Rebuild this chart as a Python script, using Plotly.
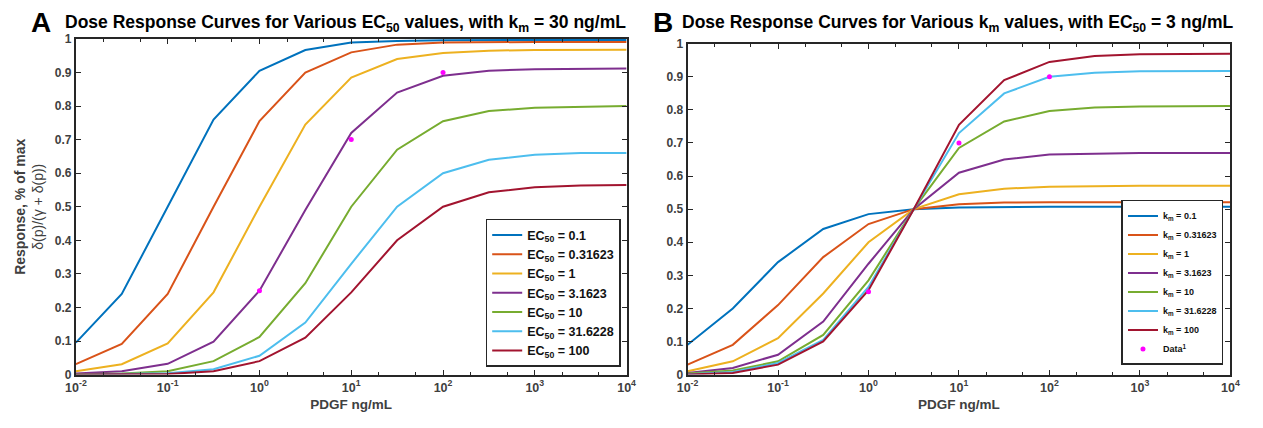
import plotly.graph_objects as go

# ---------------- data ----------------
dose = [0.01, 0.0316, 0.1, 0.316, 1, 3.16, 10, 31.6, 100, 316, 1000, 3162, 10000]

ec50_labels = ["EC<sub>50</sub> = 0.1", "EC<sub>50</sub> = 0.31623", "EC<sub>50</sub> = 1",
               "EC<sub>50</sub> = 3.1623", "EC<sub>50</sub> = 10", "EC<sub>50</sub> = 31.6228",
               "EC<sub>50</sub> = 100"]
resp_A = [
    [0.095, 0.24, 0.50, 0.76, 0.905, 0.967, 0.989, 0.994, 0.996, 0.997, 0.997, 0.997, 0.997],
    [0.031, 0.091, 0.24, 0.50, 0.755, 0.90, 0.96, 0.983, 0.989, 0.991, 0.991, 0.991, 0.991],
    [0.010, 0.031, 0.093, 0.245, 0.50, 0.745, 0.885, 0.94, 0.958, 0.965, 0.967, 0.968, 0.968],
    [0.003, 0.010, 0.032, 0.098, 0.25, 0.49, 0.72, 0.84, 0.89, 0.905, 0.91, 0.912, 0.912],
    [0.001, 0.003, 0.010, 0.040, 0.112, 0.272, 0.50, 0.67, 0.755, 0.785, 0.795, 0.798, 0.80],
    [0.000, 0.001, 0.004, 0.016, 0.056, 0.155, 0.33, 0.50, 0.60, 0.64, 0.655, 0.66, 0.66],
    [0.000, 0.000, 0.002, 0.010, 0.040, 0.110, 0.245, 0.40, 0.50, 0.543, 0.558, 0.563, 0.565],
]

km_labels = ["k<sub>m</sub> = 0.1", "k<sub>m</sub> = 0.31623", "k<sub>m</sub> = 1",
             "k<sub>m</sub> = 3.1623", "k<sub>m</sub> = 10", "k<sub>m</sub> = 31.6228",
             "k<sub>m</sub> = 100"]
resp_B = [
    [0.09, 0.20, 0.34, 0.44, 0.485, 0.50, 0.505, 0.507, 0.507, 0.507, 0.507, 0.507, 0.507],
    [0.03, 0.09, 0.21, 0.355, 0.455, 0.50, 0.515, 0.52, 0.521, 0.521, 0.521, 0.521, 0.521],
    [0.01, 0.04, 0.11, 0.245, 0.40, 0.50, 0.545, 0.562, 0.568, 0.57, 0.571, 0.571, 0.571],
    [0.005, 0.02, 0.06, 0.16, 0.335, 0.50, 0.61, 0.65, 0.665, 0.668, 0.67, 0.67, 0.67],
    [0.003, 0.012, 0.04, 0.12, 0.285, 0.50, 0.685, 0.765, 0.797, 0.807, 0.81, 0.812, 0.812],
    [0.001, 0.008, 0.035, 0.105, 0.265, 0.50, 0.73, 0.85, 0.90, 0.912, 0.917, 0.918, 0.918],
    [0.000, 0.005, 0.03, 0.10, 0.255, 0.50, 0.755, 0.89, 0.945, 0.963, 0.968, 0.97, 0.97],
]

data_x = [1, 10, 100]
data_y = [0.25, 0.70, 0.90]

colors = ["#0072BD", "#D95319", "#EDB120", "#7E2F8E", "#77AC30", "#4DBEEE", "#A2142F"]

x_tickvals = [0.01, 0.1, 1, 10, 100, 1000, 10000]
x_ticktext = ["10<sup>-2</sup>", "10<sup>-1</sup>", "10<sup>0</sup>", "10<sup>1</sup>",
              "10<sup>2</sup>", "10<sup>3</sup>", "10<sup>4</sup>"]
y_tickvals = [0, 0.1, 0.2, 0.3, 0.4, 0.5, 0.6, 0.7, 0.8, 0.9, 1]
y_ticktext = ["0", "0.1", "0.2", "0.3", "0.4", "0.5", "0.6", "0.7", "0.8", "0.9", "1"]

# ---------------- figure ----------------
W, H = 1263, 428
FONT = "Liberation Sans, Arial, sans-serif"
AX = "#262626"

fig = go.Figure()

for lab, ys, c in zip(ec50_labels, resp_A, colors):
    fig.add_trace(go.Scatter(x=dose, y=ys, mode="lines", name="<b>" + lab + "</b>",
                             line=dict(color=c, width=2), xaxis="x", yaxis="y",
                             legend="legend"))
fig.add_trace(go.Scatter(x=data_x, y=data_y, mode="markers", showlegend=False,
                         marker=dict(color="#FF00FF", size=5), xaxis="x", yaxis="y"))

for lab, ys, c in zip(km_labels, resp_B, colors):
    fig.add_trace(go.Scatter(x=dose, y=ys, mode="lines", name="<b>" + lab + "</b>",
                             line=dict(color=c, width=2), xaxis="x2", yaxis="y2",
                             legend="legend2"))
fig.add_trace(go.Scatter(x=data_x, y=data_y, mode="markers", name="<b>Data<sup>1</sup></b>",
                         marker=dict(color="#FF00FF", size=5), xaxis="x2", yaxis="y2",
                         legend="legend2"))


def xax(domain, anchor):
    return dict(type="log", range=[-2, 4], domain=domain, anchor=anchor,
                tickvals=x_tickvals, ticktext=x_ticktext,
                ticks="inside", ticklen=5, tickwidth=1, tickcolor=AX,
                minor=dict(ticks="inside", ticklen=3, tickcolor=AX, showgrid=False),
                showline=True, linecolor=AX, linewidth=2, mirror="ticks",
                showgrid=False, zeroline=False,
                tickfont=dict(family=FONT, size=12.5, color="#404040", weight="bold"),
                title=dict(text="<b>PDGF ng/mL</b>", standoff=6,
                           font=dict(family=FONT, size=13.5, color="#404040")))


def yax(domain, anchor):
    return dict(range=[0, 1], domain=domain, anchor=anchor,
                tickvals=y_tickvals, ticktext=y_ticktext,
                ticks="inside", ticklen=5, tickwidth=1, tickcolor=AX,
                showline=True, linecolor=AX, linewidth=2, mirror="ticks",
                showgrid=False, zeroline=False,
                tickfont=dict(family=FONT, size=12, color="#404040", weight="bold"))


ya = yax([1 - 380 / H, 1 - 33 / H], "x")
ya["title"] = dict(text="<b>Response, % of max</b><br>δ(p)/(γ + δ(p))", standoff=8,
                   font=dict(family=FONT, size=14, color="#404040"))

fig.update_layout(
    width=W, height=H,
    margin=dict(l=0, r=0, t=0, b=0),
    paper_bgcolor="white", plot_bgcolor="white",
    font=dict(family=FONT, color=AX),
    xaxis=xax([66 / W, 626 / W], "y"),
    yaxis=ya,
    xaxis2=xax([688 / W, 1240 / W], "y2"),
    yaxis2=yax([1 - 380 / H, 1 - 38 / H], "x2"),
    legend=dict(x=620 / W, y=1 - 372 / H, xanchor="right", yanchor="bottom",
                bgcolor="white", bordercolor=AX, borderwidth=1.5,
                font=dict(family=FONT, size=12.5, color="#111111"),
                tracegroupgap=0, itemwidth=30),
    legend2=dict(x=1233 / W, y=1 - 370 / H, xanchor="right", yanchor="bottom",
                 bgcolor="white", bordercolor=AX, borderwidth=1.5,
                 font=dict(family=FONT, size=9, color="#111111"),
                 tracegroupgap=0, itemwidth=30),
    showlegend=True,
    annotations=[
        dict(text="<b>A</b>", x=31 / W, y=1 - 16 / H, xref="paper", yref="paper",
             xanchor="center", yanchor="middle",
             showarrow=False, font=dict(family=FONT, size=28, color="black")),
        dict(text="<b>Dose Response Curves for Various EC<sub>50</sub> values, with k<sub>m</sub> = 30 ng/mL</b>",
             x=340 / W, y=1 - 17 / H, xref="paper", yref="paper", showarrow=False,
             xanchor="center", yanchor="middle",
             font=dict(family=FONT, size=17.5, color="black")),
        dict(text="<b>B</b>", x=663 / W, y=1 - 16 / H, xref="paper", yref="paper",
             xanchor="center", yanchor="middle",
             showarrow=False, font=dict(family=FONT, size=28, color="black")),
        dict(text="<b>Dose Response Curves for Various k<sub>m</sub> values, with EC<sub>50</sub> = 3 ng/mL</b>",
             x=963 / W, y=1 - 17 / H, xref="paper", yref="paper", showarrow=False,
             xanchor="center", yanchor="middle",
             font=dict(family=FONT, size=17.5, color="black")),
    ],
)

fig.write_html("out.html")
